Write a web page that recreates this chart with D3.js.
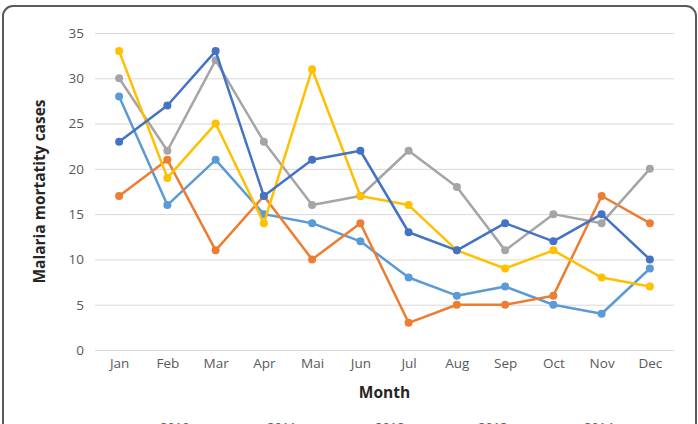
<html>
<head>
<meta charset="utf-8">
<script src="https://d3js.org/d3.v7.min.js"></script>
<style>
  body { margin: 0; background: #fff; }
  .gridlines line { stroke: #d9d9d9; }
  .gridlines .domain { stroke: none; }
  .axis text { fill: #595959; font-family: "Open Sans", sans-serif; font-size: 13.5px; }
  .axis .domain, .axis line { stroke: none; }
</style>
</head>
<body>
<svg id="chart"></svg>
<script>
// data
const months = ["Jan", "Feb", "Mar", "Apr", "Mai", "Jun", "Jul", "Aug", "Sep", "Oct", "Nov", "Dec"];
const years = ["2010", "2011", "2012", "2013", "2014"];
const y2010 = [28, 16, 21, 15, 14, 12, 8, 6, 7, 5, 4, 9];
const y2011 = [17, 21, 11, 17, 10, 14, 3, 5, 5, 6, 17, 14];
const y2012 = [30, 22, 32, 23, 16, 17, 22, 18, 11, 15, 14, 20];
const y2013 = [33, 19, 25, 14, 31, 17, 16, 11, 9, 11, 8, 7];
const y2014 = [23, 27, 33, 17, 21, 22, 13, 11, 14, 12, 15, 10];
const yTicks = [0, 5, 10, 15, 20, 25, 30, 35];
const colors = ["#5b9bd5", "#ed7d31", "#a5a5a5", "#ffc000", "#4472c4"];

const series = [y2010, y2011, y2012, y2013, y2014];

const width = 698, height = 424;
const margins = {top: 33, right: 24, bottom: 74, left: 95};
const chartWidth = width - margins.left - margins.right;
const chartHeight = height - margins.top - margins.bottom;

let svg = d3.select("svg#chart")
            .attr("width", width)
            .attr("height", height);

// chart border
svg.append("rect")
   .attr("x", 3).attr("y", 6)
   .attr("width", 693).attr("height", 460)
   .attr("rx", 10)
   .attr("fill", "#fff")
   .attr("stroke", "#5a5a5a")
   .attr("stroke-width", 2);

let chartArea = svg.append("g")
                   .attr("transform", `translate(${margins.left}, ${margins.top})`);

const xScale = d3.scalePoint()
                 .domain(months)
                 .range([0, chartWidth])
                 .padding(0.5);
const yScale = d3.scaleLinear()
                 .domain([0, 35])
                 .range([chartHeight, 0]);

// gridlines
chartArea.append("g")
   .attr("class", "gridlines")
   .call(d3.axisLeft(yScale).tickValues(yTicks).tickSize(-chartWidth).tickFormat(""));

// axes
chartArea.append("g")
   .attr("class", "axis")
   .call(d3.axisLeft(yScale).tickValues(yTicks).tickSize(0).tickPadding(11));

chartArea.append("g")
   .attr("class", "axis")
   .attr("transform", `translate(0, ${chartHeight})`)
   .call(d3.axisBottom(xScale).tickSize(0).tickPadding(8));

// axis titles
svg.append("text")
   .attr("x", margins.left + chartWidth / 2)
   .attr("y", 398)
   .attr("text-anchor", "middle")
   .style("font-family", "Open Sans, sans-serif")
   .style("font-weight", "bold")
   .style("font-size", "15.5px")
   .style("fill", "#262626")
   .text("Month");

svg.append("text")
   .attr("transform", `translate(45, ${margins.top + chartHeight / 2}) rotate(-90)`)
   .attr("text-anchor", "middle")
   .style("font-family", "Open Sans, sans-serif")
   .style("font-weight", "bold")
   .style("font-size", "15.5px")
   .style("fill", "#262626")
   .text("Malaria mortatity cases");

// lines
const line = d3.line()
               .x((d, i) => xScale(months[i]))
               .y(d => yScale(d));

series.forEach((s, k) => {
    chartArea.append("path")
        .datum(s)
        .attr("d", line)
        .attr("fill", "none")
        .attr("stroke", colors[k])
        .attr("stroke-width", 2.5)
        .attr("stroke-linejoin", "round");
    s.forEach((d, i) => {
        chartArea.append("circle")
            .attr("cx", xScale(months[i]))
            .attr("cy", yScale(d))
            .attr("r", 4)
            .style("fill", colors[k]);
    });
});

// legend (mostly cut off at the bottom)
const legendX = [160, 267, 375, 478, 584];
years.forEach((yr, k) => {
    let g = svg.append("g").attr("transform", `translate(${legendX[k]}, 432)`);
    g.append("line")
     .attr("x1", -32).attr("x2", -6)
     .attr("y1", -4).attr("y2", -4)
     .attr("stroke", colors[k]).attr("stroke-width", 2.5);
    g.append("circle").attr("cx", -19).attr("cy", -4).attr("r", 4).style("fill", colors[k]);
    g.append("text")
     .style("font-family", "Open Sans, sans-serif")
     .style("font-size", "13px")
     .style("fill", "#595959")
     .text(yr);
});
</script>
</body>
</html>
